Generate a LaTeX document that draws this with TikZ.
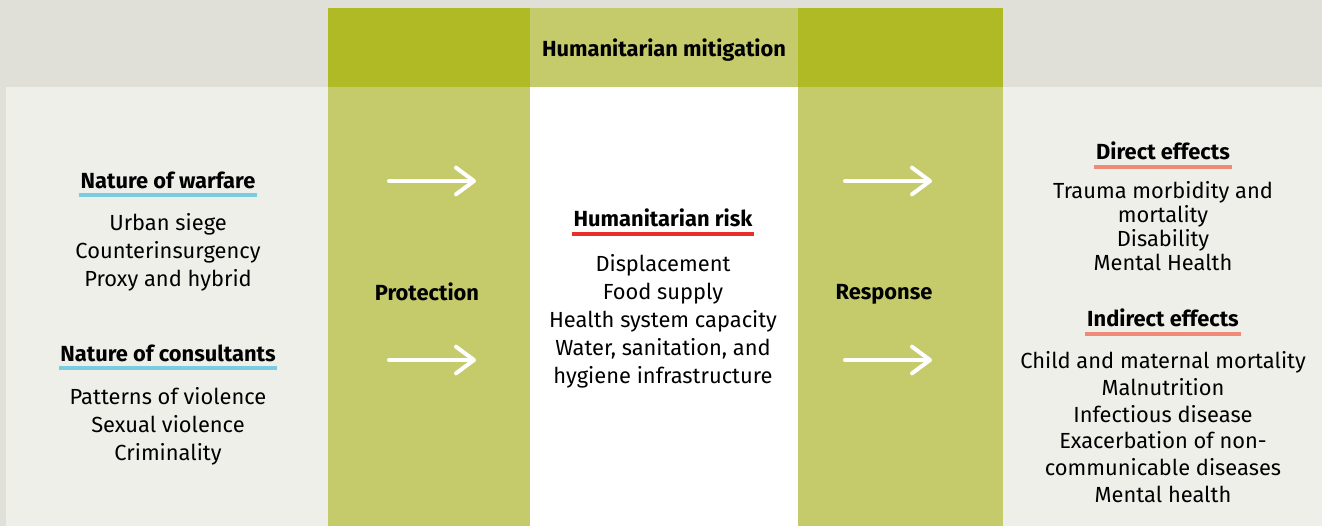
\documentclass[tikz,border=0pt]{standalone}
\usepackage{fontspec}
\setmainfont{Fira Sans}
\usetikzlibrary{arrows.meta,calc}

\definecolor{bandgrey}{HTML}{E0E0D8}
\definecolor{panelgrey}{HTML}{EFEFEA}
\definecolor{darkolive}{HTML}{B0BA24}
\definecolor{lightolive}{HTML}{C5CB6A}
\definecolor{ruleblue}{HTML}{78CDE0}
\definecolor{rulered}{HTML}{E8302A}
\definecolor{rulesalmon}{HTML}{F08A78}

\tikzset{every picture/.style={line width=0.75pt}}
\tikzset{
  head/.style={font=\bfseries\fontsize{16.4}{18}\selectfont, inner xsep=1pt, inner ysep=0pt},
  items/.style={align=center, font=\fontsize{16.4}{21}\selectfont, inner sep=0pt},
  flowarrow/.style={draw=white, line width=3pt, line cap=round,
    -{Straight Barb[length=13.5pt, width=20pt, line width=3pt, round]}},
  rule/.style={line width=3pt},
}

\begin{document}
\begin{tikzpicture}[x=0.75pt,y=0.75pt,yscale=-1,xscale=1]
\useasboundingbox (0,0) rectangle (1322,526);

%Shape: backgrounds
\fill [bandgrey] (0,0) rectangle (1322,526);
\fill [panelgrey] (6,87) rectangle (1322,526);
\fill [white] (530,87) rectangle (798,526);
%Shape: green columns
\fill [darkolive] (328,8) rectangle (530,87);
\fill [lightolive] (530,8) rectangle (798,87);
\fill [darkolive] (798,8) rectangle (1003,87);
\fill [lightolive] (328,87) rectangle (530,526);
\fill [lightolive] (798,87) rectangle (1003,526);

% Text Node
\node [head] (mitigation) at (664,50) {Humanitarian mitigation};
\node [head] (protection) at (427,292) {Protection};
\node [head] (response) at (884,294) {Response};

% Left column
\node [head] (warfare) at (168,180) {Nature of warfare};
\node [items] (warfarelist) at (168,252) {Urban siege\\Counterinsurgency\\Proxy and hybrid};
\node [head] (consult) at (168,353) {Nature of consultants};
\node [items] (consultlist) at (168,426) {Patterns of violence\\Sexual violence\\Criminality};

% Middle column
\node [head] (risk) at (663,218) {Humanitarian risk};
\node [items] (risklist) at (663,321) {Displacement\\Food supply\\Health system capacity\\Water, sanitation, and\\hygiene infrastructure};

% Right column
\node [head] (direct) at (1163,151) {Direct effects};
\node [items, font=\fontsize{16.4}{18}\selectfont] (directlist) at (1163,226) {Trauma morbidity and\\mortality\\Disability\\Mental Health};
\node [head] (indirect) at (1163,318) {Indirect effects};
\node [items, font=\fontsize{16.4}{20}\selectfont] (indirectlist) at (1163,427) {Child and maternal mortality\\Malnutrition\\Infectious disease\\Exacerbation of non-\\communicable diseases\\Mental health};

%Straight Lines: heading rules
\draw [rule, ruleblue] ($(warfare.south west)+(0,6)$) -- ($(warfare.south east)+(0,6)$);
\draw [rule, ruleblue] ($(consult.south west)+(0,6)$) -- ($(consult.south east)+(0,6)$);
\draw [rule, rulered] ($(risk.south west)+(0,6)$) -- ($(risk.south east)+(0,6)$);
\draw [rule, rulesalmon] ($(direct.south west)+(0,6)$) -- ($(direct.south east)+(0,6)$);
\draw [rule, rulesalmon] ($(indirect.south west)+(0,6)$) -- ($(indirect.south east)+(0,6)$);

%Arrows
\coordinate (pin1) at (389,181);
\coordinate (pout1) at (476,181);
\coordinate (pin2) at (389,360);
\coordinate (pout2) at (476,360);
\coordinate (rin1) at (845,181);
\coordinate (rout1) at (932,181);
\coordinate (rin2) at (845,360);
\coordinate (rout2) at (932,360);
\draw [flowarrow] (pin1) -- (pout1);
\draw [flowarrow] (pin2) -- (pout2);
\draw [flowarrow] (rin1) -- (rout1);
\draw [flowarrow] (rin2) -- (rout2);

\end{tikzpicture}
\end{document}
